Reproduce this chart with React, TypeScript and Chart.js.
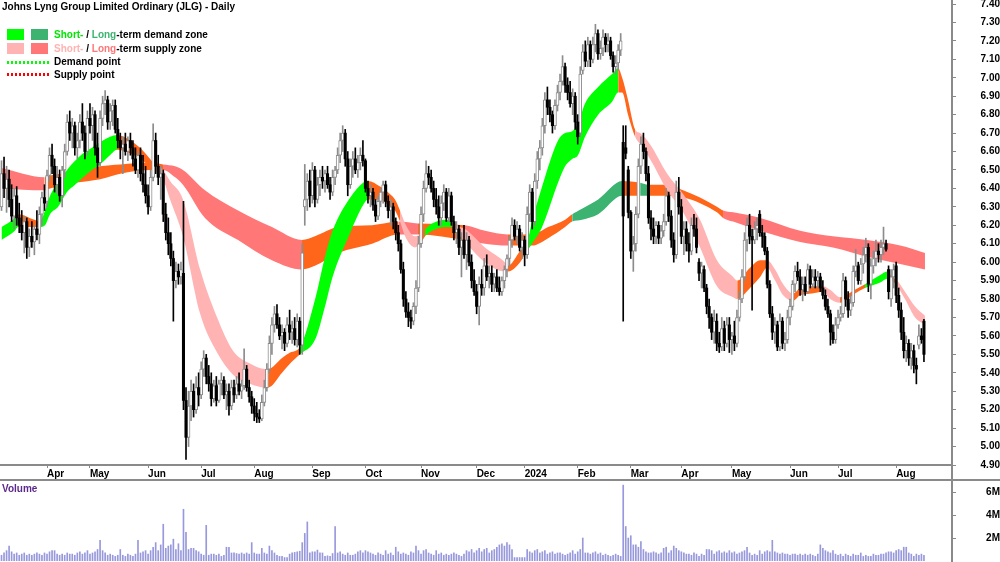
import React, { useEffect, useRef } from 'react';
import { Chart, registerables } from 'chart.js';
Chart.register(...registerables);

const title = 'Johns Lyng Group Limited Ordinary (JLG) - Daily';

// month boundaries (bar index of first trading day) and their labels
const monthTicks = [18, 35, 58, 79, 100, 123, 144, 166, 188, 207, 228, 249, 269, 289, 312, 331, 354];
const monthLabels = ['Apr', 'May', 'Jun', 'Jul', 'Aug', 'Sep', 'Oct', 'Nov', 'Dec', '2024', 'Feb', 'Mar', 'Apr', 'May', 'Jun', 'Jul', 'Aug'];

const priceTicks = [4.9, 5.0, 5.1, 5.2, 5.3, 5.4, 5.5, 5.6, 5.7, 5.8, 5.9, 6.0, 6.1, 6.2, 6.3, 6.4, 6.5, 6.6, 6.7, 6.8, 6.9, 7.0, 7.1, 7.2, 7.3, 7.4];
const volumeTicks = [2, 4, 6]; // millions

// daily candles [open, high, low, close]
const candles: number[][] = [
  // Mar 2023
  [6.30,6.55,6.28,6.48],[6.48,6.57,6.35,6.40],[6.40,6.52,6.27,6.45],[6.45,6.50,6.30,6.34],[6.34,6.42,6.22,6.25],
  [6.25,6.40,6.18,6.36],[6.36,6.41,6.20,6.24],[6.24,6.32,6.16,6.20],[6.20,6.28,6.12,6.16],[6.16,6.25,6.05,6.22],
  [6.22,6.24,6.02,6.08],[6.08,6.18,6.03,6.14],[6.14,6.22,6.08,6.11],[6.11,6.20,6.04,6.18],[6.18,6.28,6.12,6.15],
  [6.15,6.30,6.10,6.26],[6.26,6.38,6.20,6.35],[6.35,6.42,6.28,6.32],
  // Apr
  [6.33,6.50,6.30,6.47],[6.47,6.62,6.44,6.58],[6.58,6.64,6.48,6.52],[6.52,6.56,6.38,6.42],[6.42,6.52,6.37,6.46],
  [6.46,6.50,6.33,6.36],[6.36,6.52,6.30,6.50],[6.50,6.64,6.46,6.60],[6.60,6.80,6.58,6.76],[6.76,6.82,6.66,6.70],
  [6.70,6.78,6.62,6.74],[6.74,6.76,6.58,6.62],[6.62,6.70,6.56,6.66],[6.66,6.80,6.62,6.76],[6.76,6.86,6.66,6.70],
  [6.70,6.74,6.56,6.60],[6.60,6.82,6.58,6.78],
  // May
  [6.78,6.86,6.70,6.74],[6.74,6.84,6.66,6.80],[6.80,6.82,6.58,6.62],[6.62,6.70,6.46,6.54],[6.54,6.82,6.52,6.78],
  [6.78,6.90,6.74,6.86],[6.86,6.93,6.80,6.88],[6.88,6.90,6.72,6.76],[6.76,6.86,6.72,6.82],[6.82,6.88,6.74,6.85],
  [6.85,6.88,6.70,6.72],[6.72,6.78,6.62,6.66],[6.66,6.70,6.56,6.62],[6.62,6.68,6.48,6.64],[6.64,6.70,6.58,6.60],
  [6.60,6.68,6.55,6.66],[6.66,6.70,6.58,6.62],[6.62,6.66,6.52,6.56],[6.56,6.62,6.48,6.50],[6.50,6.60,6.46,6.58],
  [6.58,6.62,6.44,6.48],[6.48,6.58,6.38,6.42],[6.42,6.52,6.32,6.36],
  // Jun
  [6.36,6.42,6.26,6.30],[6.30,6.50,6.28,6.46],[6.46,6.75,6.44,6.66],[6.66,6.70,6.48,6.52],[6.52,6.58,6.42,6.46],
  [6.46,6.52,6.34,6.48],[6.48,6.50,6.22,6.26],[6.26,6.32,6.12,6.16],[6.16,6.24,6.04,6.10],[6.10,6.16,5.98,6.02],
  [6.02,6.06,5.68,5.90],[5.90,6.00,5.86,5.95],[5.95,5.99,5.88,5.92],[5.92,6.00,5.88,5.96],[5.94,6.33,5.20,5.25],
  [5.25,5.32,4.93,5.05],[5.05,5.30,5.00,5.22],[5.22,5.36,5.14,5.30],[5.30,5.34,5.16,5.20],[5.20,5.38,5.18,5.32],
  [5.32,5.40,5.22,5.28],
  // Jul
  [5.28,5.46,5.26,5.42],[5.42,5.52,5.38,5.48],[5.48,5.50,5.34,5.38],[5.38,5.44,5.30,5.34],[5.34,5.40,5.22,5.26],
  [5.26,5.36,5.24,5.33],[5.33,5.38,5.22,5.25],[5.25,5.36,5.24,5.34],[5.34,5.40,5.28,5.36],[5.36,5.38,5.26,5.28],
  [5.28,5.34,5.20,5.30],[5.30,5.34,5.17,5.22],[5.22,5.36,5.20,5.32],[5.32,5.36,5.24,5.28],[5.28,5.38,5.26,5.34],
  [5.34,5.40,5.28,5.30],[5.30,5.36,5.26,5.33],[5.33,5.53,5.31,5.42],[5.42,5.44,5.30,5.32],[5.32,5.36,5.24,5.27],
  [5.27,5.30,5.18,5.22],
  // Aug
  [5.22,5.26,5.14,5.18],[5.18,5.24,5.13,5.16],[5.16,5.20,5.13,5.15],[5.15,5.28,5.14,5.24],[5.24,5.36,5.22,5.32],
  [5.32,5.45,5.30,5.42],[5.42,5.60,5.40,5.56],[5.56,5.70,5.50,5.66],[5.66,5.76,5.62,5.72],[5.72,5.77,5.64,5.66],
  [5.66,5.70,5.58,5.60],[5.60,5.66,5.53,5.62],[5.62,5.64,5.52,5.56],[5.56,5.70,5.54,5.66],[5.66,5.74,5.58,5.62],
  [5.62,5.68,5.56,5.64],[5.64,5.70,5.55,5.58],[5.58,5.72,5.54,5.68],[5.68,5.70,5.50,5.55],[5.55,6.10,5.50,6.05],
  [6.30,6.53,6.20,6.34],[6.34,6.48,6.28,6.44],[6.44,6.50,6.30,6.36],
  // Sep
  [6.36,6.54,6.32,6.50],[6.50,6.52,6.30,6.34],[6.34,6.46,6.32,6.42],[6.42,6.50,6.36,6.46],[6.46,6.52,6.40,6.44],
  [6.44,6.50,6.38,6.48],[6.48,6.52,6.40,6.42],[6.42,6.46,6.34,6.38],[6.38,6.50,6.36,6.46],[6.46,6.52,6.42,6.50],
  [6.50,6.62,6.48,6.58],[6.58,6.70,6.54,6.66],[6.66,6.74,6.60,6.70],[6.70,6.72,6.52,6.56],[6.56,6.60,6.36,6.42],
  [6.42,6.56,6.40,6.52],[6.52,6.60,6.46,6.56],[6.56,6.62,6.48,6.50],[6.50,6.58,6.46,6.54],[6.54,6.62,6.50,6.58],
  [6.58,6.66,6.52,6.55],
  // Oct
  [6.55,6.56,6.38,6.40],[6.40,6.44,6.32,6.36],[6.36,6.42,6.30,6.38],[6.38,6.40,6.28,6.31],[6.31,6.34,6.22,6.25],
  [6.25,6.36,6.23,6.33],[6.33,6.40,6.30,6.38],[6.38,6.44,6.32,6.42],[6.42,6.44,6.30,6.33],[6.33,6.36,6.24,6.28],
  [6.28,6.34,6.20,6.30],[6.30,6.32,6.18,6.22],[6.22,6.24,6.12,6.16],[6.16,6.20,6.06,6.10],[6.10,6.12,5.94,5.96],
  [5.96,6.00,5.76,5.80],[5.80,5.84,5.70,5.73],[5.73,5.78,5.65,5.70],[5.70,5.74,5.64,5.68],[5.68,5.78,5.66,5.76],
  [5.76,5.90,5.72,5.86],[5.86,6.14,5.84,6.10],
  // Nov
  [6.10,6.30,6.08,6.26],[6.26,6.44,6.22,6.40],[6.40,6.55,6.38,6.48],[6.48,6.52,6.42,6.46],[6.46,6.50,6.38,6.40],
  [6.40,6.44,6.30,6.34],[6.34,6.40,6.26,6.30],[6.30,6.36,6.20,6.24],[6.24,6.36,6.20,6.32],[6.32,6.42,6.28,6.38],
  [6.38,6.40,6.22,6.24],[6.24,6.40,6.22,6.36],[6.36,6.38,6.20,6.22],[6.22,6.25,6.12,6.16],[6.16,6.22,6.10,6.18],
  [6.18,6.20,6.04,6.08],[6.08,6.16,5.92,6.12],[6.12,6.20,6.02,6.04],[6.04,6.16,5.96,6.12],[6.12,6.14,5.98,6.00],
  [6.00,6.04,5.86,5.90],[5.90,5.96,5.82,5.84],
  // Dec
  [5.84,5.88,5.72,5.76],[5.76,5.92,5.66,5.88],[5.88,5.96,5.82,5.86],[5.86,6.02,5.82,5.98],[5.98,6.04,5.90,5.92],
  [5.92,5.98,5.86,5.94],[5.94,5.98,5.84,5.88],[5.88,5.94,5.84,5.92],[5.92,5.96,5.84,5.86],[5.86,5.92,5.82,5.84],
  [5.84,5.92,5.82,5.90],[5.90,5.98,5.86,5.96],[5.96,6.04,5.92,6.02],[6.02,6.14,5.98,6.12],[6.12,6.24,6.08,6.20],
  [6.20,6.23,6.12,6.14],[6.14,6.22,6.10,6.18],[6.18,6.20,6.06,6.08],[6.08,6.16,6.02,6.12],
  // Jan 2024
  [6.12,6.14,5.98,6.04],[6.04,6.30,6.02,6.26],[6.26,6.42,6.22,6.38],[6.38,6.40,6.18,6.22],[6.22,6.48,6.20,6.44],
  [6.44,6.60,6.40,6.56],[6.56,6.66,6.50,6.62],[6.62,6.78,6.58,6.74],[6.74,6.92,6.70,6.88],[6.88,6.95,6.80,6.84],
  [6.84,6.88,6.76,6.80],[6.80,6.82,6.70,6.74],[6.74,6.88,6.72,6.85],[6.85,6.96,6.82,6.92],[6.92,7.02,6.88,6.98],
  [6.98,7.12,6.96,7.06],[7.06,7.08,6.92,6.96],[6.96,7.00,6.88,6.92],[6.92,6.98,6.84,6.86],[6.86,6.94,6.80,6.90],
  [6.90,6.92,6.72,6.76],
  // Feb
  [6.76,6.80,6.64,6.68],[6.70,7.06,6.68,7.02],[7.04,7.18,7.02,7.14],[7.14,7.20,7.06,7.09],[7.09,7.22,7.06,7.18],
  [7.18,7.20,7.06,7.10],[7.10,7.22,7.08,7.18],[7.18,7.29,7.14,7.24],[7.24,7.26,7.10,7.13],[7.13,7.20,7.10,7.16],
  [7.16,7.26,7.12,7.22],[7.22,7.24,7.14,7.18],[7.18,7.24,7.14,7.20],[7.20,7.22,7.10,7.12],[7.12,7.14,7.03,7.06],
  [7.06,7.12,7.02,7.08],[7.08,7.18,7.04,7.15],[7.15,7.24,7.12,7.20],[6.65,6.74,5.68,6.25],[6.62,6.74,6.56,6.59],
  [6.50,6.52,6.24,6.27],
  // Mar
  [6.27,6.28,6.02,6.06],[6.06,6.14,5.95,6.10],[6.10,6.30,6.06,6.26],[6.26,6.56,6.24,6.52],[6.52,6.68,6.48,6.64],
  [6.64,6.70,6.56,6.60],[6.60,6.62,6.44,6.48],[6.48,6.52,6.21,6.24],[6.24,6.28,6.12,6.18],[6.18,6.24,6.10,6.14],
  [6.14,6.22,6.10,6.20],[6.20,6.22,6.10,6.13],[6.13,6.20,6.10,6.17],[6.17,6.26,6.14,6.22],[6.22,6.40,6.20,6.36],
  [6.36,6.38,6.22,6.25],[6.25,6.28,6.08,6.12],[6.12,6.16,6.00,6.04],[6.04,6.44,6.02,6.38],[6.38,6.46,6.26,6.30],
  // Apr
  [6.30,6.34,6.10,6.14],[6.14,6.22,6.04,6.18],[6.18,6.22,6.06,6.10],[6.10,6.16,6.00,6.06],[6.06,6.24,6.04,6.20],
  [6.20,6.26,6.14,6.18],[6.18,6.24,6.05,6.08],[6.00,6.02,5.90,5.94],[5.94,6.00,5.86,5.98],[5.96,5.98,5.84,5.86],
  [5.86,5.88,5.72,5.76],[5.76,5.80,5.64,5.70],[5.70,5.72,5.58,5.62],[5.62,5.74,5.56,5.68],[5.68,5.72,5.52,5.56],
  [5.56,5.62,5.51,5.54],[5.54,5.70,5.52,5.64],[5.64,5.68,5.52,5.56],[5.56,5.70,5.54,5.66],[5.66,5.70,5.51,5.58],
  // May
  [5.58,5.62,5.50,5.60],[5.60,5.68,5.52,5.56],[5.56,5.74,5.54,5.70],[5.70,5.84,5.68,5.80],[5.80,5.96,5.78,5.92],
  [5.92,6.16,5.90,6.12],[6.12,6.24,6.06,6.20],[6.20,6.26,6.10,6.14],[6.14,6.18,5.74,6.12],[6.12,6.22,6.10,6.18],
  [6.18,6.24,6.12,6.20],[6.26,6.28,6.14,6.16],[6.16,6.20,6.08,6.14],[6.14,6.16,6.04,6.06],[6.06,6.08,5.86,5.88],
  [5.88,5.90,5.70,5.72],[5.72,5.76,5.58,5.62],[5.62,5.70,5.56,5.66],[5.66,5.68,5.52,5.54],[5.54,5.72,5.52,5.68],
  [5.68,5.70,5.53,5.56],[5.56,5.62,5.52,5.58],[5.58,5.74,5.56,5.70],
  // Jun
  [5.70,5.80,5.66,5.76],[5.76,5.90,5.74,5.88],[5.88,5.98,5.84,5.95],[5.95,6.00,5.90,5.92],[5.92,5.96,5.82,5.85],
  [5.85,5.92,5.79,5.88],[5.88,5.92,5.82,5.84],[5.84,5.99,5.83,5.96],[5.96,5.98,5.86,5.88],[5.88,5.96,5.86,5.92],
  [5.92,5.96,5.86,5.90],[5.90,5.95,5.86,5.92],[5.92,5.94,5.84,5.86],[5.86,5.90,5.80,5.82],[5.82,5.85,5.74,5.76],
  [5.76,5.80,5.70,5.72],[5.72,5.74,5.55,5.62],[5.62,5.66,5.56,5.58],[5.58,5.70,5.56,5.66],
  // Jul
  [5.66,5.74,5.64,5.70],[5.70,5.76,5.68,5.72],[5.72,5.94,5.70,5.90],[5.90,5.92,5.76,5.80],[5.80,5.84,5.70,5.74],
  [5.74,5.82,5.71,5.78],[5.78,5.98,5.76,5.95],[5.95,6.07,5.92,5.98],[5.98,6.00,5.88,5.90],[5.90,6.02,5.88,5.99],
  [5.99,6.08,5.94,6.04],[6.04,6.13,6.00,6.08],[6.08,6.10,5.84,5.88],[5.88,6.02,5.80,5.98],[5.98,6.06,5.94,6.02],
  [6.02,6.12,5.98,6.06],[6.06,6.10,6.00,6.04],[6.04,6.12,6.00,6.08],[6.08,6.19,6.04,6.10],[6.10,6.12,6.06,6.07],
  [5.96,5.98,5.80,5.84],[5.80,5.96,5.76,5.92],[5.92,5.99,5.86,5.96],
  // Aug
  [5.98,6.00,5.78,5.82],[5.82,5.86,5.70,5.74],[5.74,5.78,5.58,5.62],[5.62,5.70,5.48,5.52],[5.52,5.60,5.46,5.56],
  [5.56,5.58,5.44,5.48],[5.48,5.56,5.42,5.52],[5.52,5.55,5.40,5.44],[5.44,5.48,5.34,5.42],[5.55,5.66,5.53,5.60],
  [5.60,5.64,5.56,5.58],[5.68,5.69,5.46,5.50],
];

// daily volume, millions of shares
const volumes: number[] = [
  0.5,0.7,0.9,1.3,0.8,0.6,0.7,0.5,0.6,0.7,0.5,0.6,0.5,0.6,0.7,0.6,0.5,0.7,
  0.6,0.8,0.9,0.9,0.6,0.5,0.6,0.5,0.7,0.6,0.6,0.5,0.7,0.8,0.6,0.7,0.9,
  0.6,0.7,0.8,1.0,1.8,0.9,0.7,0.5,0.6,0.5,0.4,0.5,1.0,0.5,0.4,0.6,0.5,0.4,0.6,1.8,0.7,0.8,0.9,
  0.6,0.9,1.2,1.6,0.9,1.4,3.2,1.1,1.3,1.4,1.9,1.0,1.5,0.9,4.5,2.5,1.0,1.1,1.1,0.9,0.8,
  0.6,0.5,3.1,0.5,0.6,0.6,0.5,0.6,0.4,0.5,1.2,1.2,0.7,0.7,0.65,0.6,0.7,0.6,0.7,0.6,1.6,
  0.7,0.6,0.6,1.1,0.7,0.6,1.3,0.9,0.7,0.5,0.4,0.4,0.3,0.3,0.6,0.7,0.75,0.8,0.85,1.6,2.4,3.4,0.7,
  0.8,0.8,0.95,0.7,0.7,0.4,0.45,0.4,0.65,3.0,0.7,0.8,0.6,0.5,0.7,0.5,0.5,0.6,0.8,0.9,0.7,
  0.9,0.8,0.7,0.6,0.5,0.7,0.6,0.5,0.9,0.6,0.7,0.5,1.2,0.8,0.6,0.7,0.6,0.5,0.8,0.7,1.3,0.9,
  0.6,0.9,1.0,0.7,0.6,0.5,0.9,0.6,0.7,0.5,0.6,0.5,0.6,0.7,0.6,0.5,0.4,0.6,0.9,0.8,1.0,0.7,
  0.9,1.1,0.8,1.0,1.1,0.7,0.9,1.0,1.2,1.4,1.5,1.3,1.6,1.4,1.0,0.3,0.3,0.3,0.3,
  0.3,1.0,0.8,0.7,0.9,1.0,0.7,0.8,0.9,0.6,0.7,0.8,0.6,0.7,0.7,0.6,0.5,0.6,0.7,0.9,0.6,
  0.8,1.0,2.0,0.7,0.7,0.6,0.7,0.8,0.6,0.7,0.5,0.6,0.5,0.4,0.5,0.6,0.5,0.4,6.6,3.0,2.0,
  2.2,1.4,1.4,1.2,1.7,1.0,0.8,0.7,0.7,0.8,0.7,0.6,0.7,1.1,1.2,0.7,0.9,1.3,1.1,0.9,
  0.8,0.7,0.6,0.6,0.5,0.7,0.6,0.4,0.6,0.5,1.0,1.0,0.9,0.6,0.8,0.9,0.7,0.8,0.7,0.9,
  0.7,0.8,0.6,0.7,0.8,0.9,1.2,0.7,0.5,0.6,0.5,0.9,0.6,0.8,0.9,0.8,1.8,0.8,0.7,0.6,0.7,0.6,0.6,
  0.5,0.6,0.6,0.5,0.6,0.5,0.6,0.5,0.6,0.5,0.4,0.6,1.4,1.1,0.9,0.8,0.7,0.9,0.6,
  0.5,0.6,0.4,0.6,0.5,0.4,0.6,0.5,0.5,0.7,0.4,0.5,0.4,0.4,0.6,0.5,0.5,0.6,0.6,0.7,0.8,0.8,0.7,
  0.9,1.0,0.9,1.2,1.2,0.7,0.6,0.4,0.6,0.5,0.6,0.5,
];

// short-term zone: [bar index, upper, lower, state]  D = demand, S = supply, N = neutral
const shortZone: [number, number, number, string][] = [
  [0,6.19,6.12,'D'],[5.3,6.24,6.17,'D'],[6.5,6.26,6.19,'N'],[13,6.23,6.19,'N'],[15.2,6.22,6.19,'D'],
  [17.2,6.28,6.20,'D'],[19.2,6.36,6.26,'D'],[22.4,6.43,6.30,'D'],[25.9,6.50,6.38,'D'],[29.1,6.55,6.42,'D'],
  [32.3,6.59,6.46,'D'],[35.8,6.62,6.50,'D'],[39,6.65,6.53,'D'],[42.9,6.68,6.58,'D'],[45.7,6.69,6.61,'N'],
  [50.9,6.66,6.59,'N'],[54.8,6.62,6.56,'N'],[58.8,6.56,6.52,'N'],[60.7,6.53,6.50,'S'],[63.9,6.50,6.45,'S'],
  [66.7,6.44,6.34,'S'],[71.8,6.34,6.14,'S'],[78.6,5.96,5.72,'S'],[85.3,5.70,5.51,'S'],[91.6,5.52,5.39,'S'],
  [98.3,5.45,5.34,'S'],[104.3,5.42,5.32,'S'],[105.5,5.42,5.32,'N'],[111,5.48,5.40,'N'],[114.2,5.51,5.45,'N'],
  [118.1,5.54,5.50,'D'],[124.1,5.80,5.58,'D'],[128,6.03,5.76,'D'],[131,6.17,5.92,'D'],[138,6.35,6.16,'D'],
  [143.1,6.43,6.31,'D'],[145,6.44,6.34,'N'],[149.8,6.41,6.34,'N'],[153.7,6.37,6.30,'N'],[155.7,6.34,6.28,'N'],
  [157.7,6.28,6.22,'S'],[159.7,6.21,6.14,'S'],[163.6,6.14,6.08,'S'],[165.6,6.15,6.10,'N'],[167.6,6.18,6.14,'D'],
  [170.4,6.21,6.17,'D'],[175.5,6.23,6.19,'D'],[178.3,6.22,6.19,'S'],[181.4,6.19,6.14,'S'],[183.4,6.18,6.11,'S'],
  [191.3,6.08,6.00,'S'],[199.2,6.00,5.95,'S'],[200.4,5.98,5.95,'N'],[205.2,6.06,6.00,'N'],[207.9,6.10,6.06,'D'],
  [209.9,6.22,6.10,'D'],[213.9,6.41,6.19,'D'],[220.2,6.66,6.43,'D'],[223,6.70,6.52,'D'],[225.8,6.71,6.56,'D'],
  [228.1,6.75,6.58,'D'],[230.9,6.86,6.68,'D'],[236.1,6.95,6.80,'D'],[241.6,7.02,6.87,'D'],[244,7.05,6.92,'N'],
  [245.6,7.00,6.92,'N'],[247.9,6.88,6.80,'N'],[250.7,6.72,6.68,'S'],[252.7,6.70,6.64,'S'],[256.6,6.64,6.56,'S'],
  [263.4,6.48,6.39,'S'],[269.7,6.37,6.27,'S'],[276.4,6.23,6.08,'S'],[283.1,6.01,5.87,'S'],[289.5,5.92,5.81,'S'],
  [291.1,5.90,5.80,'N'],[296.2,5.97,5.86,'N'],[300.2,6.01,5.92,'N'],[302.9,6.01,5.97,'S'],[306.1,5.96,5.90,'S'],
  [309.3,5.88,5.82,'S'],[313.2,5.83,5.79,'N'],[316,5.86,5.82,'N'],[320.7,5.87,5.83,'N'],[325.1,5.87,5.84,'S'],
  [327.9,5.85,5.80,'S'],[331.8,5.81,5.78,'N'],[337.7,5.85,5.83,'N'],[341.7,5.88,5.86,'D'],[347.7,5.93,5.89,'D'],
  [350.4,5.95,5.91,'N'],[352.4,5.92,5.90,'N'],[354.4,5.90,5.87,'S'],[357.5,5.84,5.80,'S'],[361.5,5.76,5.70,'S'],
  [365.4,5.71,5.66,'S'],
];

// long-term zone: [bar index, upper, lower, state]
const longZone: [number, number, number, string][] = [
  [0,6.51,6.40,'S'],[17,6.46,6.39,'N'],[19.2,6.47,6.40,'N'],[29,6.49,6.43,'N'],[39,6.52,6.45,'N'],
  [47,6.53,6.48,'N'],[58.8,6.54,6.50,'N'],[63.9,6.53,6.50,'S'],[68.7,6.52,6.46,'S'],[71.8,6.50,6.42,'S'],
  [80.5,6.39,6.24,'S'],[93.6,6.28,6.12,'S'],[107,6.19,6.01,'S'],[118.9,6.12,5.96,'N'],[124,6.14,5.98,'N'],
  [133.2,6.19,6.05,'N'],[146.6,6.20,6.10,'N'],[157,6.22,6.15,'S'],[164.8,6.21,6.15,'N'],[183.4,6.20,6.12,'S'],
  [191.3,6.17,6.10,'S'],[200.4,6.15,6.09,'N'],[209.9,6.15,6.09,'N'],[216.3,6.19,6.13,'N'],[223,6.23,6.19,'N'],
  [225.8,6.26,6.22,'D'],[229.7,6.29,6.23,'D'],[236.1,6.34,6.26,'D'],[245.6,6.44,6.36,'N'],[252.7,6.43,6.36,'D'],
  [255.5,6.42,6.36,'N'],[263.4,6.42,6.36,'N'],[269.7,6.39,6.35,'N'],[276.4,6.35,6.32,'N'],[283.1,6.30,6.27,'N'],
  [285.5,6.28,6.24,'S'],[289.5,6.27,6.22,'S'],[300.2,6.24,6.17,'S'],[316,6.17,6.11,'S'],[329,6.14,6.08,'S'],
  [342.5,6.12,6.03,'S'],[355.6,6.09,5.99,'S'],[365.4,6.05,5.96,'S'],
];

const shortColors: Record<string, string> = { D: '#00ff00', S: '#ffb3b3', N: '#ff661a' };
const longColors: Record<string, string> = { D: '#3cb371', S: '#ff7777', N: '#ff661a' };

const FONT_FAMILY = '"Liberation Sans", Arial, Helvetica, sans-serif';
const tickFont = { family: FONT_FAMILY, size: 10, weight: 'bold' as const };
const X_MIN = -0.6;
const X_MAX = 376.1;

export default function App() {
  const priceRef = useRef<HTMLCanvasElement>(null);
  const volRef = useRef<HTMLCanvasElement>(null);

  useEffect(() => {
    document.body.style.margin = '0';
    const isUp = (c: number[]) => c[3] >= c[0];

    const zoneLine = (zone: [number, number, number, string][], k: 1 | 2, colors: Record<string, string>, order: number, fillTo: boolean) => ({
      type: 'line' as const,
      data: zone.map((p) => ({ x: p[0], y: p[k] })),
      borderColor: 'transparent',
      borderWidth: 0,
      pointRadius: 0,
      cubicInterpolationMode: 'monotone' as const,
      fill: fillTo ? '-1' : false,
      backgroundColor: colors[zone[0][3]],
      segment: fillTo ? { backgroundColor: (ctx: any) => colors[zone[ctx.p0DataIndex][3]] } : undefined,
      order,
    });

    const upBars = candles.map((c, i) => ({ c, i })).filter((d) => isUp(d.c));
    const downBars = candles.map((c, i) => ({ c, i })).filter((d) => !isUp(d.c));

    const price = new Chart(priceRef.current as HTMLCanvasElement, {
      type: 'bar',
      data: {
        datasets: [
          zoneLine(longZone, 1, longColors, 10, false),
          zoneLine(longZone, 2, longColors, 10, true),
          zoneLine(shortZone, 1, shortColors, 9, false),
          zoneLine(shortZone, 2, shortColors, 9, true),
          {
            type: 'bar',
            data: upBars.map(({ c, i }) => ({ x: i, y: [c[2], c[1]] })),
            backgroundColor: '#8c8c8c',
            barThickness: 1,
            grouped: false,
            order: 4,
          },
          {
            type: 'bar',
            data: downBars.map(({ c, i }) => ({ x: i, y: [c[2], c[1]] })),
            backgroundColor: '#000000',
            barThickness: 1,
            grouped: false,
            order: 3,
          },
          {
            type: 'bar',
            data: upBars.map(({ c, i }) => ({ x: i, y: [c[0], c[3]] })),
            backgroundColor: '#ffffff',
            borderColor: '#8c8c8c',
            borderWidth: 1,
            borderSkipped: false,
            barThickness: 3,
            minBarLength: 1,
            grouped: false,
            order: 2,
          },
          {
            type: 'bar',
            data: downBars.map(({ c, i }) => ({ x: i, y: [c[0], c[3]] })),
            backgroundColor: '#000000',
            barThickness: 2.4,
            minBarLength: 1,
            grouped: false,
            order: 1,
          },
        ] as any,
      },
      options: {
        responsive: false,
        devicePixelRatio: 1,
        animation: false,
        events: [],
        layout: { padding: 0 },
        plugins: { legend: { display: false }, tooltip: { enabled: false } },
        scales: {
          x: {
            type: 'linear',
            min: X_MIN,
            max: X_MAX,
            offset: false,
            afterBuildTicks: (s: any) => { s.ticks = monthTicks.map((v) => ({ value: v })); },
            afterFit: (s: any) => { s.height = 16; s.paddingLeft = 0; s.paddingRight = 0; },
            ticks: {
              callback: (_v: any, idx: number) => monthLabels[idx],
              align: 'start',
              autoSkip: false,
              maxRotation: 0,
              minRotation: 0,
              padding: 0,
              font: tickFont,
              color: '#000',
            },
            grid: { drawOnChartArea: false, offset: false, tickLength: 3, color: '#888' },
            border: { display: false },
          },
          y: {
            type: 'linear',
            position: 'right',
            min: 4.9,
            max: 7.4217,
            afterBuildTicks: (s: any) => { s.ticks = priceTicks.map((v) => ({ value: v })); },
            afterFit: (s: any) => { s.width = 48; s.paddingTop = 0; s.paddingBottom = 0; },
            ticks: {
              callback: (v: any) => Number(v).toFixed(2),
              crossAlign: 'far',
              padding: 22,
              autoSkip: false,
              font: tickFont,
              color: '#000',
            },
            grid: { drawOnChartArea: false, tickLength: 4, color: '#888' },
            border: { display: false },
          },
        },
      } as any,
    });

    const vol = new Chart(volRef.current as HTMLCanvasElement, {
      type: 'bar',
      data: {
        datasets: [
          {
            data: volumes.map((v, i) => ({ x: i, y: v })),
            backgroundColor: '#9898dc',
            barThickness: 1,
          },
        ] as any,
      },
      options: {
        responsive: false,
        devicePixelRatio: 1,
        animation: false,
        events: [],
        layout: { padding: { bottom: 1 } },
        plugins: { legend: { display: false }, tooltip: { enabled: false } },
        scales: {
          x: { type: 'linear', min: X_MIN, max: X_MAX, offset: false, display: false },
          y: {
            type: 'linear',
            position: 'right',
            min: 0,
            max: 6.96,
            afterBuildTicks: (s: any) => { s.ticks = volumeTicks.map((v) => ({ value: v })); },
            afterFit: (s: any) => { s.width = 48; s.paddingTop = 0; s.paddingBottom = 0; },
            ticks: {
              callback: (v: any) => `${v}M`,
              crossAlign: 'far',
              padding: 26,
              font: tickFont,
              color: '#000',
            },
            grid: { drawOnChartArea: false, tickLength: 4, color: '#888' },
            border: { display: false },
          },
        },
      } as any,
    });

    return () => {
      price.destroy();
      vol.destroy();
    };
  }, []);

  const text: React.CSSProperties = { position: 'absolute', fontFamily: FONT_FAMILY, fontSize: 10, fontWeight: 'bold', lineHeight: '12px', whiteSpace: 'nowrap', color: '#000' };
  const sq = (left: number, top: number, color: string): React.CSSProperties => ({ position: 'absolute', left, top, width: 17, height: 11, background: color });
  const dots = (top: number, color: string): React.CSSProperties => ({
    position: 'absolute', left: 7, top, width: 42, height: 3,
    background: `repeating-linear-gradient(90deg, ${color} 0px, ${color} 2px, transparent 2px, transparent 4px)`,
  });

  return (
    <div style={{ position: 'relative', width: 1000, height: 562, overflow: 'hidden', background: '#fff' }}>
      <canvas ref={priceRef} width={1000} height={481} style={{ position: 'absolute', left: 0, top: 0 }} />
      <canvas ref={volRef} width={1000} height={81} style={{ position: 'absolute', left: 0, top: 481 }} />
      {/* frame lines */}
      <div style={{ position: 'absolute', left: 0, top: 464, width: 952, height: 2, background: '#8a8a8a' }} />
      <div style={{ position: 'absolute', left: 0, top: 479, width: 1000, height: 2, background: '#8a8a8a' }} />
      <div style={{ position: 'absolute', left: 951, top: 0, width: 2, height: 562, background: '#8a8a8a' }} />
      {/* title */}
      <div style={{ ...text, left: 2, top: 1 }}>{title}</div>
      {/* legend */}
      <div style={sq(7, 29, '#00ff00')} />
      <div style={sq(31, 29, '#3cb371')} />
      <div style={{ ...text, left: 54, top: 29 }}>
        <span style={{ color: '#00e600' }}>Short-</span> / <span style={{ color: '#3cb371' }}>Long</span>-term demand zone
      </div>
      <div style={sq(7, 43, '#ffb3b3')} />
      <div style={sq(31, 43, '#ff7777')} />
      <div style={{ ...text, left: 54, top: 42.5 }}>
        <span style={{ color: '#ffb3b3' }}>Short-</span> / <span style={{ color: '#ff7777' }}>Long</span>-term supply zone
      </div>
      <div style={dots(60.5, '#00ff00')} />
      <div style={{ ...text, left: 54, top: 56 }}>Demand point</div>
      <div style={dots(73, '#ff0000')} />
      <div style={{ ...text, left: 54, top: 68.5 }}>Supply point</div>
      {/* volume label */}
      <div style={{ ...text, left: 2, top: 483, color: '#5c2a8a' }}>Volume</div>
    </div>
  );
}
